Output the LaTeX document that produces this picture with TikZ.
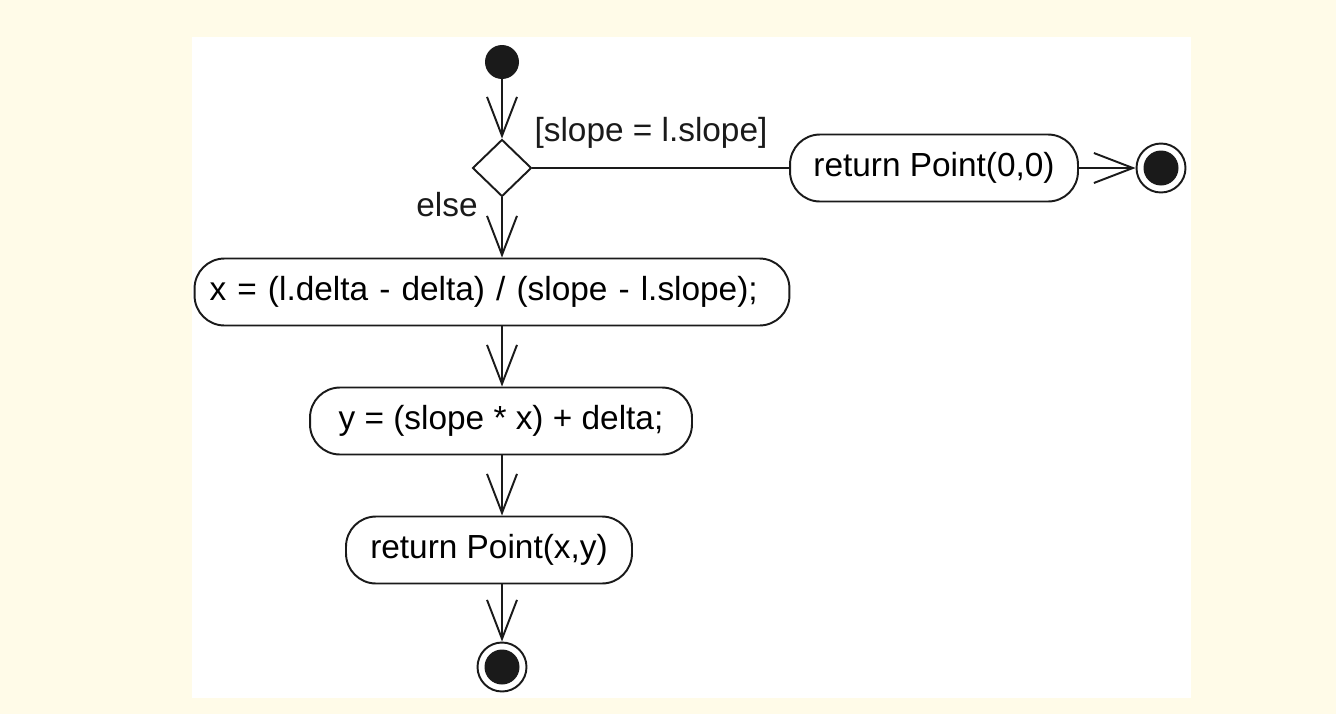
\documentclass[tikz,border=0pt]{standalone}
\usepackage{fontspec}
\setmainfont{Liberation Sans}
\usetikzlibrary{arrows.meta,positioning,calc,shapes.geometric}
\definecolor{cream}{HTML}{FFFBE8}
\definecolor{ink}{HTML}{1A1A1A}
\tikzset{
  % Action states
  act/.style={draw=ink,line width=1.1pt,fill=white,rounded corners=0.6cm,
              minimum height=1.34cm,inner sep=0pt,
              font=\fontsize{19}{22}\selectfont},
  % Decision node
  dec/.style={draw=ink,line width=1.1pt,fill=white,diamond,aspect=1,
              minimum width=1.18cm,minimum height=1.14cm,inner sep=0pt},
  % Initial and final nodes
  init/.style={circle,fill=ink,minimum size=0.68cm,inner sep=0pt},
  final/.style={circle,draw=ink,line width=1.1pt,fill=white,minimum size=0.98cm,
                inner sep=0pt,
                path picture={\fill[ink] (path picture bounding box.center) circle (0.35cm);}},
  % Connectors & guards
  fl/.style={-{Straight Barb[length=0.78cm,width=0.6cm,line width=1.1pt]},ink,line width=1.1pt},
  ln/.style={ink,line width=1.1pt},
  lbl/.style={font=\fontsize{19}{22}\selectfont,inner sep=0pt,text=ink}
}
\begin{document}
\begin{tikzpicture}[x=0.02cm,y=-0.02cm]
  \useasboundingbox (0,0) rectangle (1336,714);
  \fill[cream] (0,0) rectangle (1336,714);
  \fill[white] (192,37) rectangle (1191,698);

  % States
  \node[init]  (start) at (502,62) {};
  \node[dec]   (guard) at (502,168) {};
  \node[act,minimum width=5.76cm] (ret0)  at (934,168) {return Point(0,0)};
  \node[final] (end0)  at (1161,168) {};
  \node[act,minimum width=11.9cm,text width=11.3cm,align=left] (calcx) at (492,292) {x = (l.delta - delta) / (slope - l.slope);};
  \node[act,minimum width=7.64cm] (calcy) at (501,421) {y = (slope * x) + delta;};
  \node[act,minimum width=5.72cm] (retxy) at (489,550) {return Point(x,y)};
  \node[final] (end1)  at (502,667) {};

  % Guards
  \node[lbl] (gtrue) at (651,133) {[slope = l.slope]};
  \node[lbl] (gelse) at (447,205) {else};

  % Flows
  \draw[fl] (start) -- (guard.north);
  \draw[ln] (guard.east) -- (ret0.west);
  \draw[fl] (ret0.east) -- (end0.west);
  \draw[fl] (guard.south) -- (guard.south |- calcx.north);
  \draw[fl] (guard.south |- calcx.south) -- (guard.south |- calcy.north);
  \draw[fl] (guard.south |- calcy.south) -- (guard.south |- retxy.north);
  \draw[fl] (guard.south |- retxy.south) -- (end1.north);
\end{tikzpicture}
\end{document}
